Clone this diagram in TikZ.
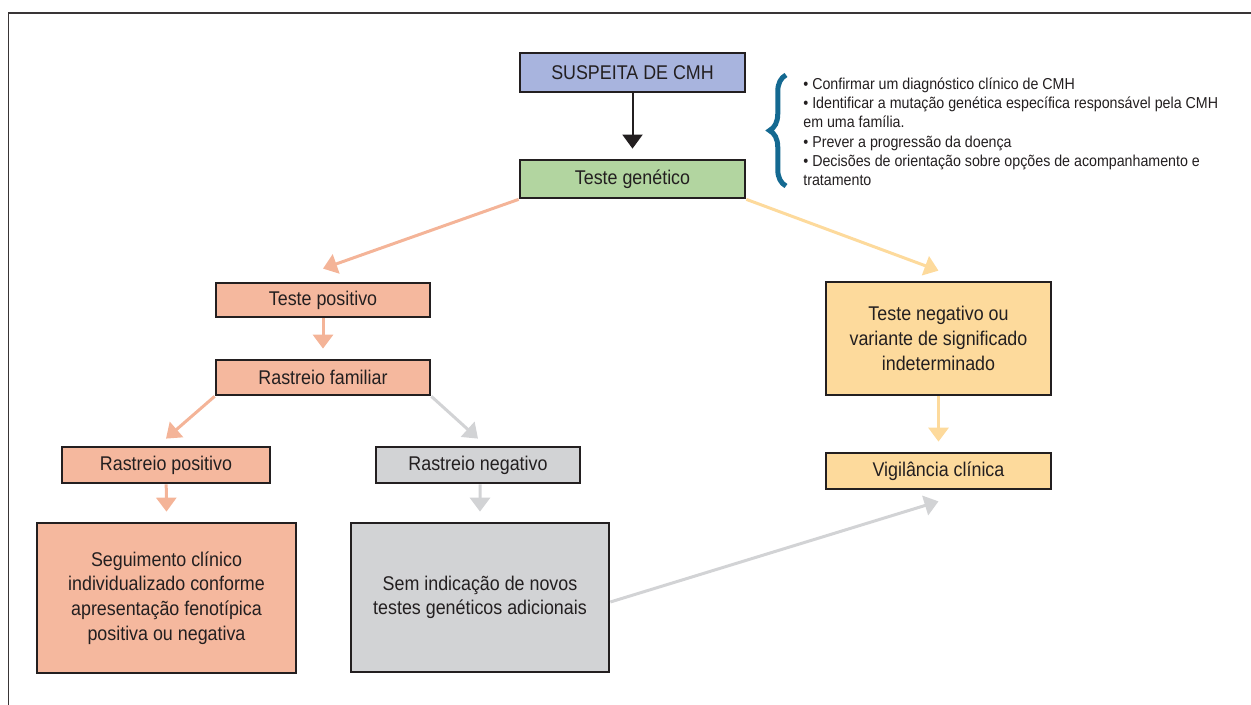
\documentclass[tikz,border=0pt]{standalone}
\usepackage{fontspec}
\setmainfont{Liberation Sans}[FakeStretch=0.9]
\usepackage{tikz}
\usetikzlibrary{arrows.meta, decorations.pathreplacing}
\usepackage{xcolor}

\definecolor{cmhblue}{RGB}{168,180,222}
\definecolor{cmhgreen}{RGB}{178,213,160}
\definecolor{cmhsalmon}{RGB}{245,184,158}
\definecolor{cmhsalmonarrow}{RGB}{244,180,152}
\definecolor{cmhgray}{RGB}{210,211,213}
\definecolor{cmhyellow}{RGB}{253,218,156}
\definecolor{cmhline}{RGB}{35,31,32}
\definecolor{cmhbrace}{RGB}{20,105,145}

\begin{document}
\begin{tikzpicture}[x=0.02cm, y=-0.02cm,
		every node/.style={font=\fontsize{11.3}{14}\selectfont, text=cmhline},
		box/.style={draw=cmhline, line width=0.055cm, inner sep=0pt, align=center},
		flow/.style={line width=0.06cm, -{Triangle[width=0.4cm,length=0.28cm]}},
		salmonflow/.style={flow, cmhsalmonarrow},
		grayflow/.style={flow, cmhgray},
		yellowflow/.style={flow, cmhyellow}]
		\useasboundingbox (0,0) rectangle (1251,705);
		% moldura
		\draw[cmhline!90, line width=0.04cm] (8.5,705) -- (8.5,13.5) -- (1251,13.5);
		% caixas
		\node[box, fill=cmhblue, minimum width=4.5cm, minimum height=0.78cm] (susp) at (632.5,72.5) {SUSPEITA DE CMH};
		\node[box, fill=cmhgreen, minimum width=4.5cm, minimum height=0.76cm] (gen) at (632.5,179) {Teste genético};
		\node[box, fill=cmhsalmon, minimum width=4.28cm, minimum height=0.68cm] (pos) at (323,300) {Teste positivo};
		\node[box, fill=cmhsalmon, minimum width=4.28cm, minimum height=0.7cm] (fam) at (323,377.5) {Rastreio familiar};
		\node[box, fill=cmhsalmon, minimum width=4.16cm, minimum height=0.72cm] (rpos) at (166,465) {Rastreio positivo};
		\node[box, fill=cmhgray, minimum width=4.08cm, minimum height=0.72cm] (rneg) at (478,465) {Rastreio negativo};
		\node[box, fill=cmhsalmon, minimum width=5.18cm, minimum height=3cm] (seg) at (166.5,598) {Seguimento clínico\\individualizado conforme\\apresentação fenotípica\\positiva ou negativa};
		\node[box, fill=cmhgray, minimum width=5.16cm, minimum height=2.98cm] (sem) at (480,597.5) {Sem indicação de novos\\testes genéticos adicionais};
		\node[box, fill=cmhyellow, minimum width=4.5cm, minimum height=2.26cm] (neg) at (938.5,338.5) {Teste negativo ou\\variante de significado\\indeterminado};
		\node[box, fill=cmhyellow, minimum width=4.5cm, minimum height=0.72cm] (vig) at (938.5,471) {Vigilância clínica};
		% objetivos
		\node[anchor=north west, inner sep=0pt, align=left, font=\fontsize{9}{10.95}\selectfont] (note) at (803,77.5) {%
			• Confirmar um diagnóstico clínico de CMH\\
			• Identificar a mutação genética específica responsável pela CMH\\
			em uma família.\\
			• Prever a progressão da doença\\
			• Decisões de orientação sobre opções de acompanhamento e\\
			tratamento};
		\coordinate (bracelow) at (786,186);
		\coordinate (bracehigh) at (786,75);
		\draw[cmhbrace, line width=0.1cm, decorate, decoration={brace, amplitude=0.33cm}] (bracelow) -- (bracehigh);
		% setas
		\draw[line width=0.04cm, cmhline, -{Triangle[width=0.4cm,length=0.28cm]}] (susp) -- ([yshift=0.2cm]gen.north);
		\draw[salmonflow] (gen.south west) -- ([yshift=0.26cm]pos.north);
		\draw[salmonflow] (pos) -- ([yshift=0.2cm]fam.north);
		\draw[salmonflow] (fam.south west) -- ([yshift=0.14cm]rpos.north);
		\draw[grayflow] (fam.south east) -- ([yshift=0.14cm]rneg.north);
		\draw[salmonflow] (rpos) -- ([yshift=0.2cm]seg.north);
		\draw[grayflow] ([xshift=0.04cm]rneg.south) -- ([yshift=0.2cm]sem.north);
		\draw[yellowflow] (gen.south east) -- ([yshift=0.2cm]neg.north);
		\draw[yellowflow] (neg) -- ([yshift=0.2cm]vig.north);
		\draw[grayflow] ([yshift=-0.09cm]sem.east) -- ([yshift=-0.22cm]vig.south);
	\end{tikzpicture}
\end{document}
